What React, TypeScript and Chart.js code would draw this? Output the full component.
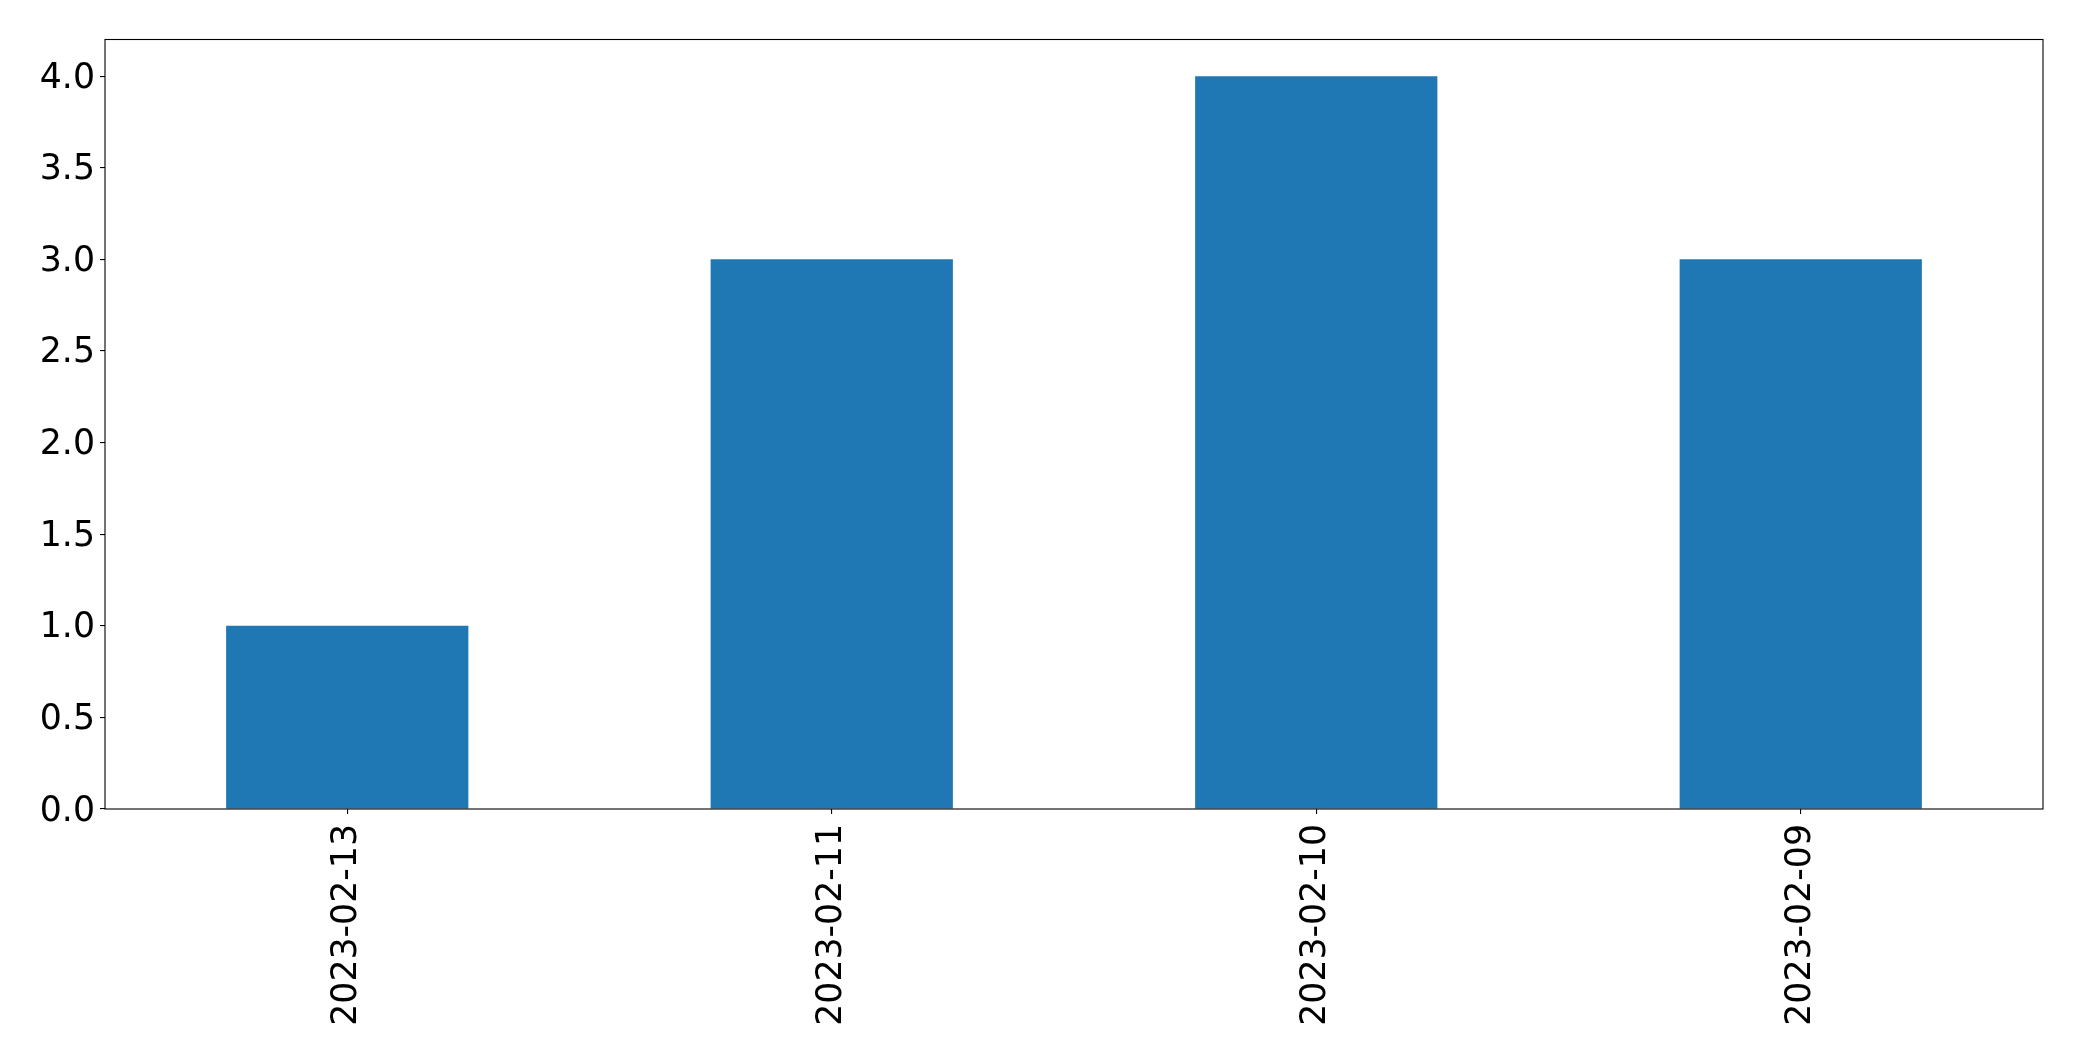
import React, { useEffect, useRef } from "react";
import { Chart, registerables } from "chart.js";

Chart.register(...registerables);

const categories = ["2023-02-13", "2023-02-11", "2023-02-10", "2023-02-09"];
const values = [1, 3, 4, 3];
const yTickValues = [0, 0.5, 1, 1.5, 2, 2.5, 3, 3.5, 4];

const W = 2082;
const H = 1061;
const FONT = { family: "'DejaVu Sans', sans-serif", size: 34.72 };

const framePlugin = {
  id: "frame",
  afterDraw(chart: any) {
    const { ctx, chartArea } = chart;
    ctx.save();
    ctx.strokeStyle = "#000";
    ctx.lineWidth = 1.1;
    ctx.strokeRect(chartArea.left, chartArea.top, chartArea.right - chartArea.left, chartArea.bottom - chartArea.top);
    ctx.restore();
  },
};

export default function App() {
  const ref = useRef<HTMLCanvasElement | null>(null);
  useEffect(() => {
    if (!ref.current) return;
    const chart = new Chart(ref.current, {
      type: "bar",
      data: {
        labels: categories,
        datasets: [
          {
            data: values,
            backgroundColor: "#1f77b4",
            borderWidth: 0,
            barPercentage: 0.5,
            categoryPercentage: 1,
          },
        ],
      },
      options: {
        animation: false,
        responsive: false,
        devicePixelRatio: 1,
        layout: { padding: { left: 0, top: 39.5, right: 39, bottom: 0 } },
        plugins: { legend: { display: false }, tooltip: { enabled: false } },
        scales: {
          x: {
            offset: true,
            grid: { display: true, drawOnChartArea: false, drawTicks: true, tickLength: 5, color: "#000", offset: false, lineWidth: 1.1 },
            border: { display: false },
            ticks: { color: "#000", font: FONT, minRotation: 90, maxRotation: 90, padding: 10, autoSkip: false },
            afterFit: (s: any) => { s.height = H - 809; },
          },
          y: {
            min: 0,
            max: 4.2,
            grid: { display: true, drawOnChartArea: false, drawTicks: true, tickLength: 5, color: "#000", lineWidth: 1.1 },
            border: { display: false },
            ticks: { color: "#000", font: FONT, padding: 5, labelOffset: 2.5, callback: (v: any) => Number(v).toFixed(1) },
            afterBuildTicks: (s: any) => { s.ticks = yTickValues.map((v) => ({ value: v })); },
            afterFit: (s: any) => { s.width = 105; },
          },
        },
      },
      plugins: [framePlugin],
    });
    return () => chart.destroy();
  }, []);
  return (
    <div style={{ position: "absolute", left: 0, top: 0, width: W, height: H, background: "#fff" }}>
      <canvas ref={ref} width={W} height={H} style={{ display: "block" }} />
    </div>
  );
}
